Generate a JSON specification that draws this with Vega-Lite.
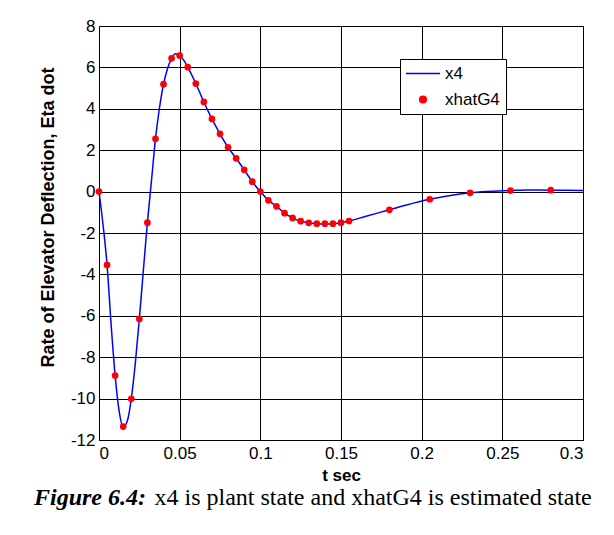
{
  "$schema": "https://vega.github.io/schema/vega-lite/v6.json",
  "width": 484,
  "height": 414,
  "autosize": "none",
  "padding": {"left": 99, "top": 26, "right": 31, "bottom": 95},
  "background": "white",
  "datasets": {
    "line": [
      {"t": 0, "v": 0, "series": "x4"},
      {"t": 0.0025, "v": -1.6, "series": "x4"},
      {"t": 0.005, "v": -3.54, "series": "x4"},
      {"t": 0.0075, "v": -6.4, "series": "x4"},
      {"t": 0.01, "v": -8.89, "series": "x4"},
      {"t": 0.0125, "v": -10.6, "series": "x4"},
      {"t": 0.015, "v": -11.38, "series": "x4"},
      {"t": 0.0175, "v": -11.1, "series": "x4"},
      {"t": 0.02, "v": -10.01, "series": "x4"},
      {"t": 0.0225, "v": -8.3, "series": "x4"},
      {"t": 0.025, "v": -6.15, "series": "x4"},
      {"t": 0.0275, "v": -3.8, "series": "x4"},
      {"t": 0.03, "v": -1.5, "series": "x4"},
      {"t": 0.0325, "v": 0.5, "series": "x4"},
      {"t": 0.035, "v": 2.55, "series": "x4"},
      {"t": 0.0375, "v": 4.05, "series": "x4"},
      {"t": 0.04, "v": 5.19, "series": "x4"},
      {"t": 0.0425, "v": 5.95, "series": "x4"},
      {"t": 0.045, "v": 6.44, "series": "x4"},
      {"t": 0.0475, "v": 6.66, "series": "x4"},
      {"t": 0.05, "v": 6.57, "series": "x4"},
      {"t": 0.0525, "v": 6.35, "series": "x4"},
      {"t": 0.055, "v": 6.01, "series": "x4"},
      {"t": 0.06, "v": 5.22, "series": "x4"},
      {"t": 0.065, "v": 4.33, "series": "x4"},
      {"t": 0.07, "v": 3.51, "series": "x4"},
      {"t": 0.075, "v": 2.79, "series": "x4"},
      {"t": 0.08, "v": 2.14, "series": "x4"},
      {"t": 0.085, "v": 1.61, "series": "x4"},
      {"t": 0.09, "v": 1.05, "series": "x4"},
      {"t": 0.095, "v": 0.48, "series": "x4"},
      {"t": 0.1, "v": 0.0, "series": "x4"},
      {"t": 0.105, "v": -0.42, "series": "x4"},
      {"t": 0.11, "v": -0.71, "series": "x4"},
      {"t": 0.115, "v": -1.04, "series": "x4"},
      {"t": 0.12, "v": -1.27, "series": "x4"},
      {"t": 0.125, "v": -1.43, "series": "x4"},
      {"t": 0.13, "v": -1.51, "series": "x4"},
      {"t": 0.135, "v": -1.55, "series": "x4"},
      {"t": 0.14, "v": -1.56, "series": "x4"},
      {"t": 0.145, "v": -1.55, "series": "x4"},
      {"t": 0.15, "v": -1.5, "series": "x4"},
      {"t": 0.155, "v": -1.42, "series": "x4"},
      {"t": 0.165, "v": -1.2, "series": "x4"},
      {"t": 0.18, "v": -0.88, "series": "x4"},
      {"t": 0.19, "v": -0.66, "series": "x4"},
      {"t": 0.205, "v": -0.37, "series": "x4"},
      {"t": 0.215, "v": -0.22, "series": "x4"},
      {"t": 0.23, "v": -0.06, "series": "x4"},
      {"t": 0.24, "v": 0.0, "series": "x4"},
      {"t": 0.255, "v": 0.05, "series": "x4"},
      {"t": 0.265, "v": 0.08, "series": "x4"},
      {"t": 0.28, "v": 0.07, "series": "x4"},
      {"t": 0.29, "v": 0.06, "series": "x4"},
      {"t": 0.3, "v": 0.05, "series": "x4"}
    ],
    "dots": [
      {"t": 0, "v": 0, "series": "xhatG4"},
      {"t": 0.005, "v": -3.54, "series": "xhatG4"},
      {"t": 0.01, "v": -8.89, "series": "xhatG4"},
      {"t": 0.015, "v": -11.35, "series": "xhatG4"},
      {"t": 0.02, "v": -10.01, "series": "xhatG4"},
      {"t": 0.025, "v": -6.15, "series": "xhatG4"},
      {"t": 0.03, "v": -1.5, "series": "xhatG4"},
      {"t": 0.035, "v": 2.55, "series": "xhatG4"},
      {"t": 0.04, "v": 5.19, "series": "xhatG4"},
      {"t": 0.045, "v": 6.44, "series": "xhatG4"},
      {"t": 0.05, "v": 6.57, "series": "xhatG4"},
      {"t": 0.055, "v": 6.01, "series": "xhatG4"},
      {"t": 0.06, "v": 5.22, "series": "xhatG4"},
      {"t": 0.065, "v": 4.33, "series": "xhatG4"},
      {"t": 0.07, "v": 3.51, "series": "xhatG4"},
      {"t": 0.075, "v": 2.79, "series": "xhatG4"},
      {"t": 0.08, "v": 2.14, "series": "xhatG4"},
      {"t": 0.085, "v": 1.61, "series": "xhatG4"},
      {"t": 0.09, "v": 1.05, "series": "xhatG4"},
      {"t": 0.095, "v": 0.48, "series": "xhatG4"},
      {"t": 0.1, "v": 0.0, "series": "xhatG4"},
      {"t": 0.105, "v": -0.42, "series": "xhatG4"},
      {"t": 0.11, "v": -0.71, "series": "xhatG4"},
      {"t": 0.115, "v": -1.04, "series": "xhatG4"},
      {"t": 0.12, "v": -1.27, "series": "xhatG4"},
      {"t": 0.125, "v": -1.43, "series": "xhatG4"},
      {"t": 0.13, "v": -1.51, "series": "xhatG4"},
      {"t": 0.135, "v": -1.55, "series": "xhatG4"},
      {"t": 0.14, "v": -1.55, "series": "xhatG4"},
      {"t": 0.145, "v": -1.55, "series": "xhatG4"},
      {"t": 0.15, "v": -1.5, "series": "xhatG4"},
      {"t": 0.155, "v": -1.42, "series": "xhatG4"},
      {"t": 0.18, "v": -0.88, "series": "xhatG4"},
      {"t": 0.205, "v": -0.37, "series": "xhatG4"},
      {"t": 0.23, "v": -0.06, "series": "xhatG4"},
      {"t": 0.255, "v": 0.05, "series": "xhatG4"},
      {"t": 0.28, "v": 0.07, "series": "xhatG4"}
    ]
  },
  "title": {
    "text": "Figure 6.4:",
    "orient": "bottom",
    "anchor": "start",
    "frame": "group",
    "dx": -65,
    "offset": -23,
    "font": "Liberation Serif",
    "fontSize": 24,
    "fontWeight": "bold",
    "fontStyle": "italic",
    "color": "black"
  },
  "encoding": {
    "y": {
      "field": "v",
      "type": "quantitative",
      "scale": {"domain": [-12, 8], "nice": false, "zero": false},
      "axis": {
        "title": "Rate of Elevator Deflection, Eta dot",
        "titleFontSize": 18,
        "values": [-12, -10, -8, -6, -4, -2, 0, 2, 4, 6, 8],
        "labelExpr": "replace(datum.label, '\u2212', '-')",
        "titleX": -51,
        "titleY": 191,
        "titleAngle": -90,
        "titleBaseline": "middle",
        "titleAlign": "center"
      }
    },
    "color": {
      "field": "series",
      "type": "nominal",
      "scale": {"domain": ["x4", "xhatG4"], "range": ["#0000ff", "#ff0000"]},
      "legend": {
        "orient": "none",
        "legendX": 301,
        "legendY": 33,
        "title": null,
        "strokeColor": "black",
        "fillColor": "white",
        "padding": 6,
        "rowPadding": 8,
        "symbolSize": 45,
        "labelFont": "Liberation Sans",
        "labelFontSize": 17,
        "labelColor": "black",
        "labelOffset": 22,
        "encode": {
          "symbols": {
            "update": {
              "x": {"value": 17},
              "shape": {"signal": "datum.value === 'x4' ? 'stroke' : 'circle'"},
              "size": {"signal": "datum.value === 'x4' ? 1156 : 45"},
              "fill": {"signal": "datum.value === 'x4' ? 'transparent' : '#ff0000'"},
              "stroke": {"signal": "datum.value === 'x4' ? '#0000ff' : 'transparent'"},
              "strokeWidth": {"value": 1.5}
            }
          }
        }
      }
    }
  },
  "layer": [
    {
      "data": {"name": "line"},
      "mark": {"type": "line", "interpolate": "monotone", "strokeWidth": 1.5},
      "encoding": {
        "x": {
          "field": "t",
          "type": "quantitative",
          "scale": {"domain": [0, 0.3], "nice": false, "zero": false},
          "axis": {
            "title": "t sec",
            "values": [0, 0.05, 0.1, 0.15, 0.2, 0.25, 0.3],
            "format": "~g",
            "titleX": 242,
            "titleY": 35,
            "titleBaseline": "middle",
            "titleAlign": "center"
          }
        }
      }
    },
    {
      "data": {"name": "dots"},
      "mark": {"type": "point", "filled": true, "size": 45, "opacity": 1},
      "encoding": {
        "x": {
          "field": "t",
          "type": "quantitative",
          "scale": {"domain": [0, 0.3], "nice": false, "zero": false},
          "axis": {
            "orient": "bottom",
            "title": "x4 is plant state and xhatG4 is estimated state",
            "labels": false,
            "grid": false,
            "ticks": false,
            "domain": false,
            "titleFont": "Liberation Serif",
            "titleFontSize": 24,
            "titleFontWeight": "normal",
            "titleColor": "black",
            "titleAlign": "left",
            "titleBaseline": "alphabetic",
            "titleX": 55,
            "titleY": 64
          }
        }
      }
    }
  ],
  "resolve": {"scale": {"x": "independent"}, "axis": {"x": "independent"}},
  "config": {
    "view": {"stroke": "black", "strokeWidth": 1},
    "axis": {
      "grid": true,
      "gridColor": "black",
      "gridWidth": 1,
      "gridOpacity": 1,
      "domain": false,
      "ticks": false,
      "labelFont": "Liberation Sans",
      "labelFontSize": 17,
      "labelColor": "black",
      "titleFont": "Liberation Sans",
      "titleFontSize": 17,
      "titleFontWeight": "bold",
      "titleColor": "black"
    },
    "axisX": {"labelPadding": 5},
    "axisY": {"labelPadding": 4}
  }
}
